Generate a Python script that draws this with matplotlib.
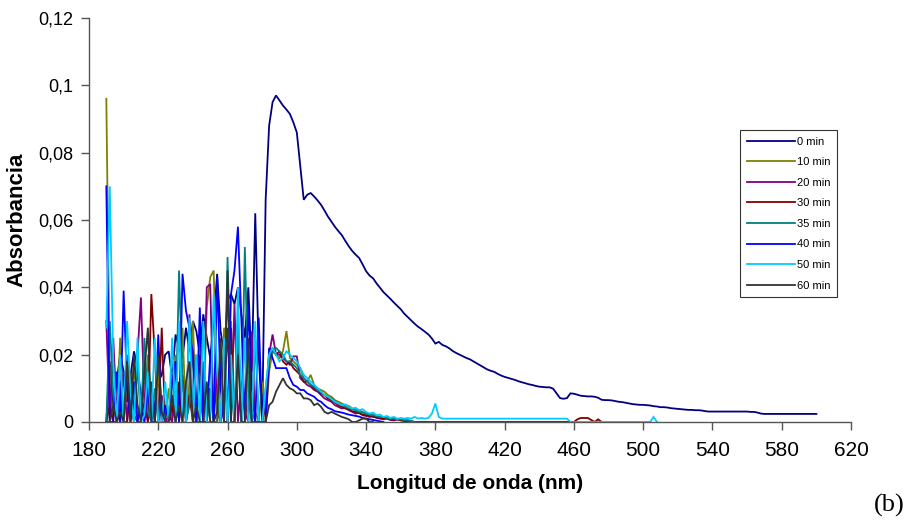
import numpy as np
import matplotlib
matplotlib.use("Agg")
import matplotlib.pyplot as plt
from matplotlib import font_manager

plt.rcParams['font.family'] = ['Liberation Sans', 'DejaVu Sans']

# ---------------- data ----------------
wl_start = 190   # nm
wl_step = 2      # nm

labels = ["0 min", "10 min", "20 min", "30 min", "35 min", "40 min", "50 min", "60 min"]
colors = ["#000080", "#808000", "#800080", "#800000", "#008080", "#0000FF", "#00CCFF", "#333333"]

# noisy part 190..280 nm
noise_0 = [0.0, 0.018, 0.004, 0.012, 0.02, 0.015, 0.006, 0.014, 0.021, 0.016, 0.008, 0.003, 0.015, 0.0, 0.005,
           0.012, 0.014, 0.02, 0.021, 0.013, 0.026, 0.022, 0.019, 0.028, 0.021, 0.03, 0.027, 0.02, 0.032, 0.025,
           0.019, 0.03, 0.044, 0.027, 0.02, 0.036, 0.038, 0.035, 0.04, 0.032, 0.025, 0.04, 0.015, 0.062, 0.02, 0.0]
post_0 = [0.066, 0.088, 0.095, 0.097, 0.0955, 0.094, 0.0928, 0.0915, 0.089, 0.086, 0.076, 0.066, 0.0675, 0.068,
          0.067, 0.0658, 0.0645, 0.0628, 0.061, 0.0595, 0.058, 0.0567, 0.0555, 0.0538, 0.0522, 0.0508, 0.0497,
          0.0487, 0.0468, 0.0448, 0.0435, 0.0427, 0.0412, 0.0399, 0.0386, 0.0376, 0.0366, 0.0355, 0.0345, 0.0335,
          0.0322, 0.0312, 0.0302, 0.0292, 0.0283, 0.0276, 0.0268, 0.026, 0.0248, 0.0233, 0.0238, 0.0229, 0.0225,
          0.0219, 0.0211, 0.0205, 0.02, 0.0195, 0.019, 0.0186, 0.018, 0.0174, 0.0168, 0.0162, 0.0156, 0.0152,
          0.0149, 0.0143, 0.0138, 0.0134, 0.0131, 0.0128, 0.0125, 0.0121, 0.0118, 0.0115, 0.0112, 0.011, 0.0107,
          0.0105, 0.0104, 0.0103, 0.0103, 0.0099, 0.0085, 0.0071, 0.0069, 0.0071, 0.0085, 0.0084, 0.0081, 0.0078,
          0.0077, 0.0076, 0.0076, 0.0075, 0.0072, 0.0066, 0.0065, 0.0065, 0.0064, 0.0062, 0.006, 0.0059, 0.0057,
          0.0055, 0.0053, 0.0052, 0.0051, 0.0051, 0.005, 0.0049, 0.0047, 0.0046, 0.0044, 0.0044, 0.0043, 0.0041,
          0.004, 0.0039, 0.0038, 0.0037, 0.0036, 0.0036, 0.0035, 0.0035, 0.0034, 0.0032, 0.0031, 0.0031, 0.0031,
          0.0031, 0.0031, 0.0031, 0.0031, 0.0031, 0.0031, 0.0031, 0.0031, 0.0031, 0.003, 0.003, 0.0028, 0.0025,
          0.0024, 0.0024, 0.0024, 0.0024, 0.0024, 0.0024, 0.0024, 0.0024, 0.0024, 0.0024, 0.0024, 0.0024, 0.0024,
          0.0024, 0.0024, 0.0024]

noise_10 = [0.096, 0.012, 0.0, 0.0, 0.025, 0.0, 0.012, 0.0, 0.018, 0.0, 0.008, 0.0, 0.02, 0.005, 0.0, 0.015, 0.0,
            0.0, 0.01, 0.0, 0.02, 0.0, 0.028, 0.0, 0.012, 0.03, 0.0, 0.025, 0.0, 0.034, 0.043, 0.045, 0.003, 0.0,
            0.028, 0.0, 0.03, 0.0, 0.024, 0.0, 0.0, 0.02, 0.0, 0.003, 0.0, 0.012]
post_10 = [0.0, 0.015, 0.021, 0.02, 0.019, 0.021, 0.027, 0.019, 0.018, 0.017, 0.016, 0.013, 0.012, 0.014, 0.011,
           0.01, 0.0095, 0.009, 0.008, 0.0075, 0.0065, 0.006, 0.0055, 0.005, 0.0048, 0.004, 0.0038, 0.0035, 0.003,
           0.0025, 0.002, 0.0022, 0.0018, 0.0015, 0.0015, 0.001, 0.0012, 0.001, 0.0008, 0.0006, 0.0005, 0.0003, 0.0]

noise_20 = [0.03, 0.0, 0.025, 0.003, 0.0, 0.015, 0.0, 0.01, 0.0, 0.02, 0.037, 0.005, 0.0, 0.012, 0.0, 0.0, 0.008,
            0.0, 0.002, 0.0, 0.018, 0.0, 0.014, 0.0, 0.032, 0.0, 0.02, 0.01, 0.0, 0.04, 0.041, 0.0, 0.015, 0.0,
            0.005, 0.028, 0.0, 0.035, 0.0, 0.012, 0.003, 0.0, 0.027, 0.0, 0.0, 0.0]
post_20 = [0.005, 0.02, 0.026, 0.02, 0.02, 0.019, 0.018, 0.017, 0.0195, 0.0195, 0.013, 0.012, 0.011, 0.0105, 0.0095,
           0.009, 0.008, 0.007, 0.0065, 0.006, 0.005, 0.0045, 0.004, 0.0042, 0.0035, 0.003, 0.0025, 0.0028, 0.002,
           0.0018, 0.0015, 0.0018, 0.0012, 0.001, 0.0008, 0.001, 0.0006, 0.0005, 0.0008, 0.0005, 0.0004, 0.0005,
           0.0003, 0.0]

noise_30 = [0.0, 0.005, 0.0, 0.0, 0.01, 0.0, 0.0, 0.015, 0.002, 0.0, 0.0, 0.02, 0.0, 0.038, 0.02, 0.0, 0.028, 0.0,
            0.0, 0.005, 0.0, 0.012, 0.0, 0.0, 0.008, 0.0, 0.0, 0.02, 0.0, 0.0, 0.01, 0.0, 0.0, 0.015, 0.0, 0.0,
            0.028, 0.0, 0.03, 0.0, 0.0, 0.01, 0.0, 0.0, 0.0, 0.0]
post_30 = [0.0, 0.018, 0.022, 0.02, 0.021, 0.018, 0.017, 0.018, 0.016, 0.015, 0.014, 0.012, 0.012, 0.011, 0.01,
           0.0095, 0.0085, 0.008, 0.007, 0.0065, 0.0058, 0.005, 0.0045, 0.004, 0.0038, 0.0032, 0.003, 0.0026, 0.0022,
           0.002, 0.0018, 0.0015, 0.0015, 0.0012, 0.001, 0.0012, 0.0008, 0.0006, 0.0008, 0.0005, 0.0003, 0.0002,
           0.0, 0.0, 0.0, 0.0, 0.0, 0.0, 0.0, 0.0, 0.0, 0.0, 0.0, 0.0,
           0.0, 0.0, 0.0, 0.0, 0.0, 0.0, 0.0, 0.0, 0.0, 0.0, 0.0, 0.0,
           0.0, 0.0, 0.0, 0.0, 0.0, 0.0, 0.0, 0.0, 0.0, 0.0, 0.0, 0.0,
           0.0, 0.0, 0.0, 0.0, 0.0, 0.0, 0.0, 0.0, 0.0, 0.0, 0.0, 0.0,
           0.0008, 0.0012, 0.0012, 0.0012, 0.0006, 0.0, 0.0008, 0.0]

noise_35 = [0.0, 0.03, 0.008, 0.0, 0.012, 0.0, 0.02, 0.005, 0.0, 0.017, 0.0, 0.025, 0.003, 0.0, 0.01, 0.0, 0.006,
            0.0, 0.0, 0.015, 0.0, 0.045, 0.012, 0.0, 0.005, 0.022, 0.0, 0.0, 0.018, 0.0, 0.01, 0.0, 0.0, 0.02, 0.0,
            0.049, 0.01, 0.0, 0.03, 0.0, 0.052, 0.008, 0.0, 0.025, 0.0, 0.0]
post_35 = [0.01, 0.019, 0.021, 0.022, 0.021, 0.02, 0.018, 0.018, 0.017, 0.016, 0.014, 0.013, 0.012, 0.011, 0.0105,
           0.0095, 0.009, 0.008, 0.0075, 0.007, 0.0062, 0.0055, 0.005, 0.0045, 0.0042, 0.0038, 0.0035, 0.003,
           0.0028, 0.0025, 0.0022, 0.002, 0.0018, 0.0015, 0.0015, 0.0012, 0.001, 0.001, 0.0008, 0.0008, 0.0006,
           0.0005, 0.0003, 0.0]

noise_40 = [0.07, 0.0, 0.0, 0.015, 0.0, 0.039, 0.01, 0.0, 0.012, 0.0, 0.005, 0.0, 0.01, 0.0, 0.0, 0.026, 0.0, 0.005,
            0.0, 0.012, 0.018, 0.0, 0.044, 0.033, 0.028, 0.02, 0.0, 0.034, 0.0, 0.0, 0.02, 0.0, 0.043, 0.01, 0.0,
            0.0, 0.038, 0.045, 0.058, 0.03, 0.0, 0.035, 0.01, 0.0, 0.031, 0.0]
post_40 = [0.0, 0.022, 0.019, 0.016, 0.016, 0.016, 0.016, 0.013, 0.011, 0.0105, 0.0095, 0.0095, 0.0085, 0.008,
           0.0075, 0.0065, 0.006, 0.005, 0.0042, 0.0038, 0.0032, 0.003, 0.0028, 0.0025, 0.0022, 0.002, 0.0018,
           0.0016, 0.0012, 0.001, 0.0008, 0.0006, 0.0004, 0.0002, 0.0]

noise_50 = [0.028, 0.07, 0.018, 0.0, 0.02, 0.0, 0.03, 0.008, 0.0, 0.025, 0.0, 0.002, 0.015, 0.0, 0.025, 0.0, 0.0,
            0.012, 0.0, 0.025, 0.0, 0.03, 0.0, 0.0, 0.031, 0.0, 0.02, 0.0, 0.03, 0.0, 0.0, 0.038, 0.015, 0.0, 0.025,
            0.0, 0.02, 0.0, 0.04, 0.0, 0.025, 0.0, 0.0, 0.03, 0.0, 0.0]
post_50 = [0.01, 0.02, 0.022, 0.02, 0.018, 0.019, 0.021, 0.02, 0.019, 0.018, 0.016, 0.014, 0.013, 0.012, 0.011,
           0.01, 0.009, 0.008, 0.0075, 0.0068, 0.006, 0.0055, 0.005, 0.0052, 0.0045, 0.004, 0.0042, 0.0035, 0.0038,
           0.003, 0.0025, 0.0028, 0.002, 0.0022, 0.0015, 0.0018, 0.0012, 0.0015, 0.001, 0.0012, 0.001, 0.0012,
           0.001, 0.0015, 0.001, 0.0012, 0.001, 0.0012, 0.0025, 0.0055, 0.0015,
           0.001, 0.001, 0.001, 0.001, 0.001, 0.001, 0.001, 0.001, 0.001, 0.001, 0.001, 0.001,
           0.001, 0.001, 0.001, 0.001, 0.001, 0.001, 0.001, 0.001, 0.001, 0.001, 0.001, 0.001,
           0.001, 0.001, 0.001, 0.001, 0.001, 0.001, 0.001, 0.001, 0.001, 0.001, 0.001, 0.001, 0.001,
           0.0, 0.0, 0.0, 0.0, 0.0, 0.0, 0.0, 0.0, 0.0, 0.0, 0.0, 0.0,
           0.0, 0.0, 0.0, 0.0, 0.0, 0.0, 0.0, 0.0, 0.0, 0.0, 0.0, 0.0,
           0.0015, 0.0]

noise_60 = [0.0, 0.0, 0.005, 0.0, 0.003, 0.0, 0.018, 0.0, 0.02, 0.005, 0.0, 0.015, 0.028, 0.0, 0.0, 0.02, 0.003,
            0.0, 0.0, 0.008, 0.0, 0.005, 0.0, 0.012, 0.018, 0.0, 0.005, 0.0, 0.0, 0.012, 0.0, 0.0, 0.003, 0.025,
            0.0, 0.045, 0.0, 0.0, 0.02, 0.0, 0.0, 0.025, 0.0, 0.0, 0.0, 0.0]
post_60 = [0.0, 0.005, 0.006, 0.009, 0.011, 0.013, 0.011, 0.01, 0.0095, 0.0085, 0.0085, 0.007, 0.007, 0.0065,
           0.005, 0.0055, 0.0045, 0.003, 0.0025, 0.003, 0.0025, 0.002, 0.0015, 0.0012, 0.0008, 0.0, 0.0, 0.0005,
           0.001, 0.001, 0.0, 0.0]

series = [noise_0 + post_0, noise_10 + post_10, noise_20 + post_20, noise_30 + post_30,
          noise_35 + post_35, noise_40 + post_40, noise_50 + post_50, noise_60 + post_60]

# ---------------- figure ----------------
fig = plt.figure(figsize=(9.24, 5.22), dpi=100)
ax = fig.add_axes([89 / 924, 1 - 422 / 522, (851 - 89) / 924, (422 - 18) / 522])

for vals, lab, col in zip(series, labels, colors):
    y = np.array(vals)
    x = wl_start + wl_step * np.arange(len(y))
    ax.plot(x, y, color=col, lw=1.3, label=lab, solid_joinstyle='miter')

ax.set_xlim(180, 620)
ax.set_ylim(0, 0.12)
ax.set_xticks(np.arange(180, 621, 40))
ax.set_yticks([0, 0.02, 0.04, 0.06, 0.08, 0.1, 0.12])
ax.set_yticklabels(["0", "0,02", "0,04", "0,06", "0,08", "0,1", "0,12"])

for s in ["top", "right"]:
    ax.spines[s].set_visible(False)
for s in ["left", "bottom"]:
    ax.spines[s].set_color("#555555")
    ax.spines[s].set_linewidth(1.0)

ax.tick_params(axis="y", direction="out", length=6, width=1.0, color="#555555", labelsize=13, pad=5)
ax.tick_params(axis="x", direction="out", length=6, width=1.0, color="#555555", labelsize=15, pad=8)

names = {f.name for f in font_manager.fontManager.ttflist}
xfam = ['Liberation Sans Narrow'] if 'Liberation Sans Narrow' in names else ['Liberation Sans']
for t in ax.get_xticklabels():
    t.set_family(xfam + ['DejaVu Sans'])

ax.set_xlabel("Longitud de onda (nm)", fontsize=15, fontweight="bold", labelpad=10)
ax.set_ylabel("Absorbancia", fontsize=16, fontweight="bold", labelpad=8)

leg = fig.legend(loc="upper right", bbox_to_anchor=(837 / 924, 1 - 130 / 522),
                 bbox_transform=fig.transFigure, fontsize=8, frameon=True, fancybox=False,
                 edgecolor="black", handlelength=4.3, labelspacing=0.95, borderpad=0.6,
                 handletextpad=0.2, borderaxespad=0.0)
leg.get_frame().set_linewidth(0.8)

fig.text(889 / 924, 1 - 505 / 522, "(b)", family=['Liberation Serif', 'DejaVu Serif'],
         fontsize=19, ha="center", va="center")

fig.savefig("out.png", dpi=100)
